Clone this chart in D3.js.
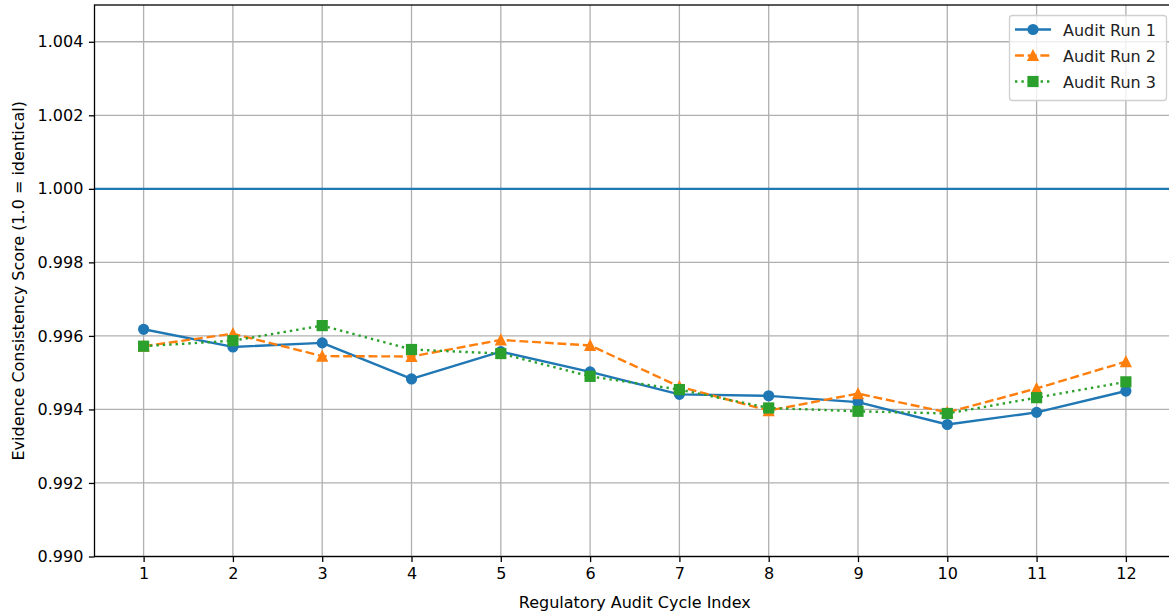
<!DOCTYPE html>
<html>
<head>
<meta charset="utf-8">
<script src="https://cdn.jsdelivr.net/npm/d3@7"></script>
<style>
  html, body { margin: 0; padding: 0; background: #fff; overflow: hidden; }
  svg { display: block; font-family: "DejaVu Sans", sans-serif; }
</style>
</head>
<body>
<svg id="chart" width="1169" height="616"></svg>
<script>
const cycles = [1, 2, 3, 4, 5, 6, 7, 8, 9, 10, 11, 12];
const run1 = [0.99618, 0.99570, 0.99581, 0.99483, 0.99557, 0.99502, 0.99441, 0.99437, 0.99420, 0.99359, 0.99392, 0.99450];
const run2 = [0.99572, 0.99606, 0.99545, 0.99544, 0.99589, 0.99574, 0.99462, 0.99397, 0.99443, 0.99392, 0.99457, 0.99530];
const run3 = [0.99572, 0.99587, 0.99628, 0.99563, 0.99552, 0.99490, 0.99454, 0.99404, 0.99395, 0.99389, 0.99432, 0.99475];
const seriesNames = ["Audit Run 1", "Audit Run 2", "Audit Run 3"];
const yTicks = [0.990, 0.992, 0.994, 0.996, 0.998, 1.000, 1.002, 1.004];
const referenceValue = 1.000;
const xLabel = "Regulatory Audit Cycle Index";
const yLabel = "Evidence Consistency Score (1.0 = identical)";

(function () {
const svg = d3.select("#chart");
const pl = 94.5, pr = 1175, pt = 5, pb = 556.5;

const x = d3.scaleLinear().domain([0.45, 12.55]).range([pl, pr]);
const y = d3.scaleLinear().domain([0.990, 1.005]).range([pb, pt]);

const colors = ["#1f77b4", "#ff7f0e", "#2ca02c"];
const dashes = [null, "8.9,3.8", "2.4,4"];
const markers = ["circle", "triangle", "square"];
const data = [run1, run2, run3];

// grid
const grid = svg.append("g");
grid.selectAll("line.vx").data(cycles).join("line")
  .attr("x1", d => x(d)).attr("x2", d => x(d))
  .attr("y1", pt).attr("y2", pb)
  .attr("stroke", "#b0b0b0").attr("stroke-width", 1.3);
grid.selectAll("line.hy").data(yTicks).join("line")
  .attr("x1", pl).attr("x2", pr)
  .attr("y1", d => y(d)).attr("y2", d => y(d))
  .attr("stroke", "#b0b0b0").attr("stroke-width", 1.3);

// axes
const xAxis = d3.axisBottom(x).tickValues(cycles).tickFormat(d3.format("d"))
  .tickSizeInner(5.6).tickSizeOuter(0).tickPadding(5.6);
const gx = svg.append("g").attr("transform", `translate(0,${pb})`).call(xAxis);
const yAxis = d3.axisLeft(y).tickValues(yTicks).tickFormat(d3.format(".3f"))
  .tickSizeInner(5.6).tickSizeOuter(0).tickPadding(5.6);
const gy = svg.append("g").attr("transform", `translate(${pl},0)`).call(yAxis);
[gx, gy].forEach(g => {
  g.selectAll("path.domain").remove();
  g.selectAll(".tick line").attr("stroke", "#000").attr("stroke-width", 1.3);
  g.selectAll(".tick text").attr("fill", "#000").style("font-size", "16px")
    .style("font-family", "DejaVu Sans, sans-serif");
});

// reference line
svg.append("line")
  .attr("x1", pl).attr("x2", pr)
  .attr("y1", y(referenceValue)).attr("y2", y(referenceValue))
  .attr("stroke", colors[0]).attr("stroke-width", 2.4);

function drawMarker(g, type, cx, cy, color) {
  const s = 9.6;
  if (type === "circle") {
    g.append("circle").attr("cx", cx).attr("cy", cy).attr("r", s / 2)
      .attr("fill", color).attr("stroke", color).attr("stroke-width", 1.6);
  } else if (type === "triangle") {
    const h = s / 2;
    g.append("path").attr("d", `M${cx},${cy - h}L${cx - h},${cy + h}L${cx + h},${cy + h}Z`)
      .attr("fill", color).attr("stroke", color).attr("stroke-width", 1.6)
      .attr("stroke-linejoin", "miter");
  } else {
    g.append("rect").attr("x", cx - s / 2).attr("y", cy - s / 2)
      .attr("width", s).attr("height", s)
      .attr("fill", color).attr("stroke", color).attr("stroke-width", 1.6);
  }
}

const line = d3.line().x(d => x(d[0])).y(d => y(d[1]));
data.forEach((vals, i) => {
  const pts = cycles.map((c, j) => [c, vals[j]]);
  const g = svg.append("g");
  g.append("path").attr("d", line(pts))
    .attr("fill", "none").attr("stroke", colors[i]).attr("stroke-width", 2.4)
    .attr("stroke-dasharray", dashes[i])
    .attr("stroke-linecap", i === 0 ? "square" : "butt")
    .attr("stroke-linejoin", "round");
  pts.forEach(p => drawMarker(g, markers[i], x(p[0]), y(p[1]), colors[i]));
});

// spines
svg.append("rect").attr("x", pl).attr("y", pt)
  .attr("width", pr - pl).attr("height", pb - pt)
  .attr("fill", "none").attr("stroke", "#000").attr("stroke-width", 1.3);

// labels
svg.append("text").attr("x", (pl + pr) / 2).attr("y", 608)
  .attr("text-anchor", "middle").style("font-size", "16px").attr("fill", "#000")
  .text(xLabel);
svg.append("text")
  .attr("transform", `translate(24,${(pt + pb) / 2}) rotate(-90)`)
  .attr("text-anchor", "middle").style("font-size", "16px").attr("fill", "#000")
  .text(yLabel);

// legend
const lg = svg.append("g");
lg.append("rect").attr("x", 1009.5).attr("y", 15.5).attr("width", 157).attr("height", 85)
  .attr("rx", 3).attr("fill", "#fff").attr("fill-opacity", 0.8)
  .attr("stroke", "#d0d0d0").attr("stroke-width", 1.3);
seriesNames.forEach((name, i) => {
  const cy = 29.5 + i * 26;
  lg.append("line").attr("x1", 1015).attr("x2", 1051).attr("y1", cy).attr("y2", cy)
    .attr("stroke", colors[i]).attr("stroke-width", 2.4)
    .attr("stroke-dasharray", dashes[i]);
  drawMarker(lg, markers[i], 1033, cy, colors[i]);
  lg.append("text").attr("x", 1063).attr("y", cy + 6)
    .style("font-size", "16px").attr("fill", "#222").text(name);
});
})();
</script>
</body>
</html>
